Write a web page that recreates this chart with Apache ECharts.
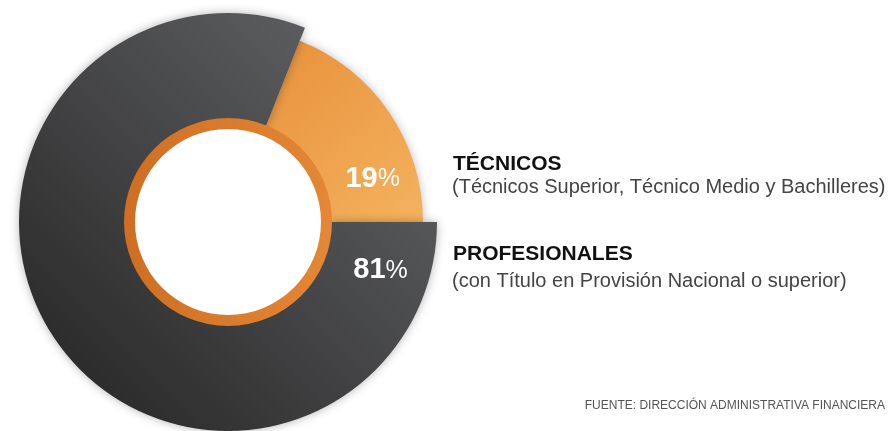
<!DOCTYPE html>
<html>
<head>
<meta charset="utf-8">
<script src="https://cdn.jsdelivr.net/npm/echarts@6/dist/echarts.min.js"></script>
<style>
	html, body {margin: 0; padding: 0; background: #fff;}
	#chart {width: 891px; height: 431px;}
</style>
</head>
<body>
<div id="chart"></div>
<script>
var categories = ['TÉCNICOS', 'PROFESIONALES'];
var descriptions = ['(Técnicos Superior, Técnico Medio y Bachilleres)', '(con Título en Provisión Nacional o superior)'];
var values = [19, 81];
var source_text = 'FUENTE: DIRECCIÓN ADMINISTRATIVA FINANCIERA';

var font = '"Liberation Sans", Arial, sans-serif';
var total = values[0] + values[1];
var start_angle = values[0] / total * 360;

var orange = new echarts.graphic.LinearGradient(0, 0, 1, 1, [
	{offset: 0, color: '#e8913b'},
	{offset: 1, color: '#f4b25e'}
]);
var dark = new echarts.graphic.LinearGradient(0, 1, 1, 0, [
	{offset: 0, color: '#222222'},
	{offset: 1, color: '#67686b'}
]);
var ring = new echarts.graphic.LinearGradient(0, 0, 1, 0, [
	{offset: 0, color: '#cf6e22'},
	{offset: 1, color: '#e38836'}
]);

function pct_label(offset){
	return {
		show: true, position: 'inside', offset: offset,
		formatter: function(p){ return '{n|' + p.value + '}{p|%}'; },
		rich: {
			n: {color: '#fff', fontFamily: font, fontWeight: 'bold', fontSize: 29},
			p: {color: '#fff', fontFamily: font, fontSize: 25, padding: [2, 0, 0, 0]}
		}
	};
}

var hidden = {color: 'rgba(0,0,0,0)', shadowBlur: 0};

var options = {
	animation: false,
	series: [
		{
			type: 'pie', silent: true, center: [228, 222], radius: [103, 195],
			startAngle: start_angle, avoidLabelOverlap: false, labelLine: {show: false},
			data: [
				{name: categories[0], value: values[0], itemStyle: {color: orange, shadowBlur: 10, shadowColor: 'rgba(0,0,0,0.25)'}, label: pct_label([19, 42])},
				{name: categories[1], value: values[1], itemStyle: hidden, label: {show: false}}
			]
		},
		{
			type: 'pie', silent: true, center: [228, 222], radius: [103, 209],
			startAngle: start_angle, avoidLabelOverlap: false, labelLine: {show: false},
			data: [
				{name: categories[0], value: values[0], itemStyle: hidden, label: {show: false}},
				{name: categories[1], value: values[1], itemStyle: {color: dark, shadowBlur: 10, shadowColor: 'rgba(0,0,0,0.3)'}, label: pct_label([284, -41])}
			]
		},
		{
			type: 'pie', silent: true, center: [228, 222], radius: [93, 104],
			label: {show: false}, labelLine: {show: false},
			data: [{name: 'ring', value: total, itemStyle: {color: ring}}]
		}
	],
	graphic: [
		{type: 'text', left: 453, top: 154, style: {text: categories[0], font: 'bold 21px ' + font, fill: '#111'}},
		{type: 'text', left: 452, top: 177, style: {text: descriptions[0], font: '20px ' + font, fill: '#444'}},
		{type: 'text', left: 453, top: 244, style: {text: categories[1], font: 'bold 21px ' + font, fill: '#111'}},
		{type: 'text', left: 452, top: 271, style: {text: descriptions[1], font: '20px ' + font, fill: '#444'}},
		{type: 'text', right: 6, top: 400, style: {text: source_text, font: '12px ' + font, fill: '#555'}}
	]
};

var myChart = echarts.init(document.getElementById('chart'));
myChart.setOption(options);
</script>
</body>
</html>
